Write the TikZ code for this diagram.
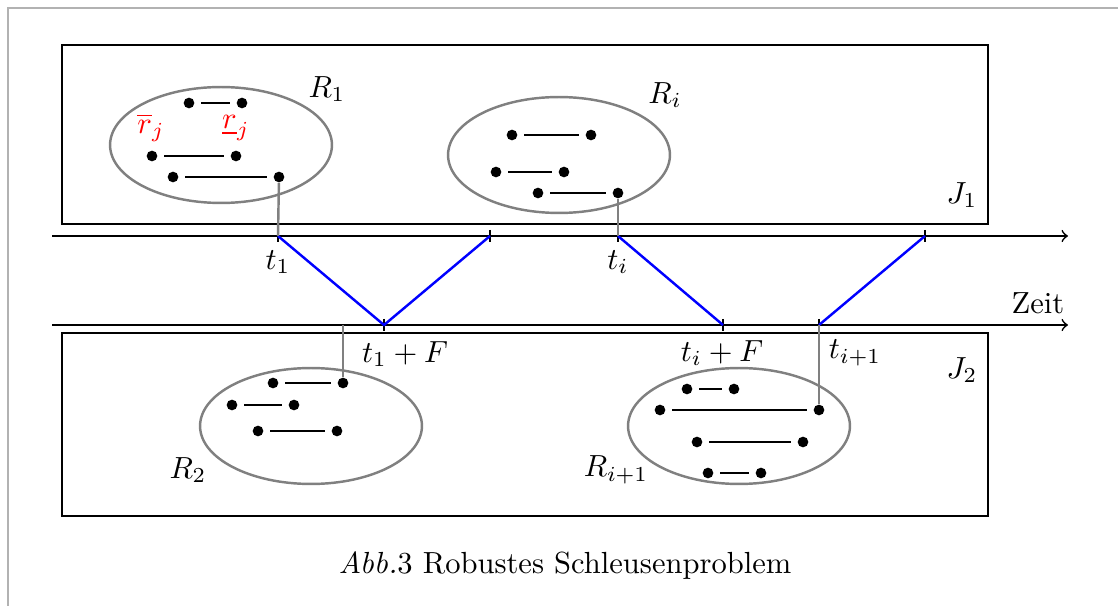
\documentclass[tikz,border=0pt]{standalone}
\usepackage{tikz}

\tikzset{
    jobbox/.style={draw=black, line width=0.8pt},
    region/.style={draw=gray, thick},
    tdot/.style={circle, fill=black, inner sep=0pt, minimum size=3.5pt},
    winbar/.style={line width=0.8pt, black, shorten <=2pt, shorten >=2pt},
    timeaxis/.style={->, black, line width=0.55pt},
    tickmark/.style={line width=0.8pt, black},
    link/.style={draw=gray, thick},
    transfer/.style={blue, thick},
}
\newcommand{\timewin}[3]{%
    \node[tdot] (#1s) at #2 {};
    \node[tdot] (#1e) at #3 {};
    \draw[winbar] (#1s) -- (#1e);}

\begin{document}
\begin{tikzpicture}[x=0.0115cm, y=-0.0115cm]

    \useasboundingbox (0,0) rectangle (1118,606);
    \draw[gray!60, thin] (8,606) -- (8,8) -- (1118,8);

    % Schleuse J1 with the regions R1 and Ri
    \draw[jobbox] (62,45) rectangle (988,224);
    \node (J1) at (962,195) {$J_1$};

    \draw[region] (221,145) ellipse [x radius=1.2765cm, y radius=0.667cm];
    \node (R1) at (327,89) {$R_1$};
    \timewin{r1a}{(189,103)}{(242,103)}
    \timewin{r1b}{(152,156)}{(236,156)}
    \timewin{r1c}{(173,177)}{(279,177)}
    \node[red] (rup) at (151,128) {$\overline{r}_j$};
    \node[red] (rlo) at (236,128) {$\underline{r}_j$};

    \draw[region] (559,155) ellipse [x radius=1.2765cm, y radius=0.667cm];
    \node (Ri) at (665,95) {$R_i$};
    \timewin{ria}{(512,135)}{(591,135)}
    \timewin{rib}{(496,172)}{(564,172)}
    \timewin{ric}{(538,193)}{(618,193)}

    % the two time axes
    \coordinate (ua) at (52,236);
    \coordinate (ub) at (1068,236);
    \coordinate (la) at (52,325);
    \coordinate (lb) at (1068,325);
    \draw[timeaxis] (ua) -- (ub);
    \draw[timeaxis] (la) -- (lb);
    \node[anchor=south east, inner sep=1pt] (zeit) at (1068,318) {Zeit};

    \coordinate (t1) at (278,236);
    \coordinate (tm) at (490,236);
    \coordinate (ti) at (618,236);
    \coordinate (tn) at (925,236);
    \coordinate (t1F) at (384,325);
    \coordinate (tiF) at (723,325);
    \coordinate (tj) at (819,325);
    \coordinate (ts) at (343,325);
    \foreach \c in {t1,tm,ti,tn,t1F,tiF,tj}
        \draw[tickmark] (\c) ++(0,-6) -- ++(0,12);

    \node (lt1) at (278,262) {$t_1$};
    \node (lti) at (618,262) {$t_i$};
    \node (lt1F) at (405,354) {$t_1+F$};
    \node (ltiF) at (722,353) {$t_i+F$};
    \node (ltj) at (855,353) {$t_{i+1}$};

    % transfers between the locks
    \draw[transfer] (t1) -- (t1F) -- (tm);
    \draw[transfer] (ti) -- (tiF);
    \draw[transfer] (tj) -- (tn);

    % Schleuse J2 with the regions R2 and Ri+1
    \draw[jobbox] (62,333) rectangle (988,516);
    \node (J2) at (962,370) {$J_2$};

    \draw[region] (311,426) ellipse [x radius=1.2765cm, y radius=0.667cm];
    \node (R2) at (188,470) {$R_2$};
    \timewin{r2a}{(273,383)}{(343,383)}
    \timewin{r2b}{(232,405)}{(294,405)}
    \timewin{r2c}{(258,431)}{(337,431)}

    \draw[region] (739,426) ellipse [x radius=1.2765cm, y radius=0.667cm];
    \node (Rj) at (616,470) {$R_{i+1}$};
    \timewin{rja}{(687,389)}{(734,389)}
    \timewin{rjb}{(660,410)}{(819,410)}
    \timewin{rjc}{(697,442)}{(803,442)}
    \timewin{rjd}{(708,473)}{(761,473)}

    % links from the regions to the axes
    \draw[link] (r1ce) -- (t1);
    \draw[link] (rice) -- (ti);
    \draw[link] (r2ae) -- (ts);
    \draw[link] (rjbe) -- (tj);

    \node (cap) at (565,566) {\textit{Abb.}3 Robustes Schleusenproblem};

\end{tikzpicture}
\end{document}
